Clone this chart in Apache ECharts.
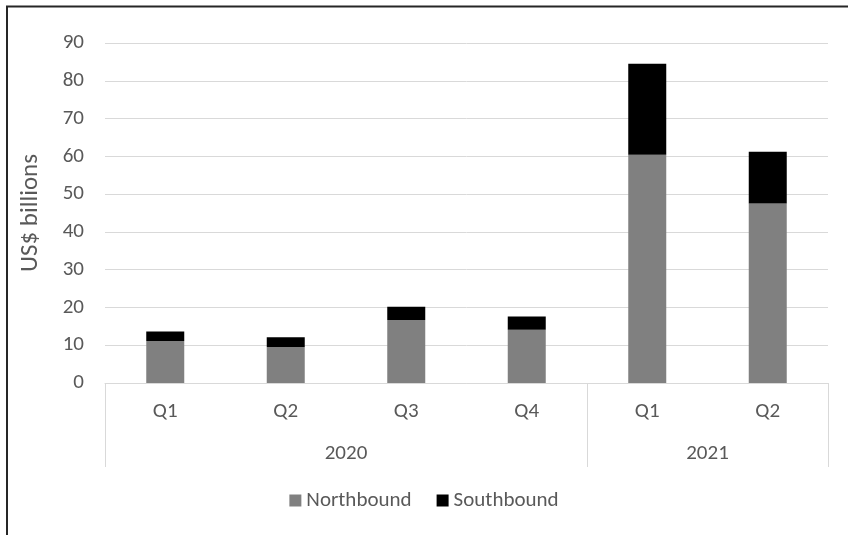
<!DOCTYPE html>
<html><head><meta charset="utf-8">
<script src="https://cdn.jsdelivr.net/npm/echarts@6/dist/echarts.min.js"></script>
<style>html,body{margin:0;padding:0;background:#fff}#c{width:848px;height:535px}</style>
</head><body><div id="c"></div>
<script>
const quarters = ['Q1','Q2','Q3','Q4','Q1','Q2'];
const years = ['2020','2021'];
const yearBounds = [0,4,6];
const yearCenters = [2,5];
const northbound = [11.1, 9.5, 16.7, 14.1, 60.4, 47.5];
const southbound = [2.5, 2.6, 3.5, 3.5, 24.1, 13.7];

const FONT = "Carlito, 'Liberation Sans Narrow', 'DejaVu Sans Condensed', sans-serif";
const TXT = '#595959';
const chart = echarts.init(document.getElementById('c'), null, {renderer:'canvas'});
chart.setOption({
  animation:false,
  textStyle:{fontFamily:FONT},
  graphic:[{type:'rect',shape:{x:7,y:6.5,width:900,height:600},style:{fill:'none',stroke:'#262626',lineWidth:2},z:-1}],
  grid:{left:105,right:20,top:43,bottom:152},
  legend:{top:490,left:'center',padding:0,itemWidth:12,itemHeight:12,itemGap:25,icon:'rect',
    textStyle:{fontFamily:FONT,fontSize:21,color:TXT},data:['Northbound','Southbound']},
  xAxis:[
    {type:'category',data:quarters,position:'bottom',
      axisLine:{lineStyle:{color:'#d9d9d9',width:1}},axisTick:{show:false},
      axisLabel:{fontFamily:FONT,fontSize:21,color:TXT,margin:18}},
    {type:'value',min:0,max:6,position:'bottom',
      axisLine:{show:false},splitLine:{show:false},
      axisTick:{show:true,customValues:yearBounds,length:84,lineStyle:{color:'#d9d9d9',width:1}},
      axisLabel:{customValues:yearCenters,fontFamily:FONT,fontSize:21,color:TXT,margin:60,
        formatter:function(v){return years[yearCenters.indexOf(v)];}}}
  ],
  yAxis:{type:'value',min:0,max:90,interval:10,name:'US$ billions',nameLocation:'middle',nameGap:62,nameRotate:90,
    nameTextStyle:{fontFamily:FONT,fontSize:25,color:TXT},
    axisLine:{show:false},axisTick:{show:false},
    axisLabel:{fontFamily:FONT,fontSize:21,color:TXT,margin:21},
    splitLine:{lineStyle:{color:'#d9d9d9',width:1}}},
  series:[
    {name:'Northbound',type:'bar',stack:'t',xAxisIndex:0,barWidth:38,data:northbound,itemStyle:{color:'#808080'}},
    {name:'Southbound',type:'bar',stack:'t',xAxisIndex:0,barWidth:38,data:southbound,itemStyle:{color:'#000000'}}
  ]
});
</script></body></html>
